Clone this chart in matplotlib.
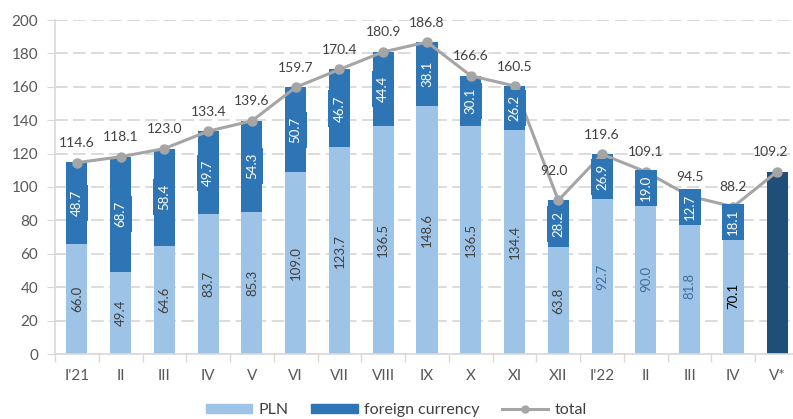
import matplotlib
matplotlib.use("Agg")
import matplotlib.pyplot as plt
from matplotlib.patches import Patch
from matplotlib.lines import Line2D
import numpy as np

months = ["I'21", "II", "III", "IV", "V", "VI", "VII", "VIII", "IX", "X", "XI", "XII",
          "I'22", "II", "III", "IV", "V*"]
pln = [66.0, 49.4, 64.6, 83.7, 85.3, 109.0, 123.7, 136.5, 148.6, 136.5, 134.4, 63.8,
       92.7, 90.0, 81.8, 70.1]
foreign = [48.7, 68.7, 58.4, 49.7, 54.3, 50.7, 46.7, 44.4, 38.1, 30.1, 26.2, 28.2,
           26.9, 19.0, 12.7, 18.1]
total = [114.6, 118.1, 123.0, 133.4, 139.6, 159.7, 170.4, 180.9, 186.8, 166.6, 160.5, 92.0,
         119.6, 109.1, 94.5, 88.2, 109.2]

c_pln = "#9DC3E6"
c_for = "#2E75B6"
c_last = "#1F4E79"
c_tot = "#A5A5A5"
c_txt = "#404040"
pln_label_colors = [c_txt] * 12 + ["#3F6E9E", "#3F6E9E", "#3F6E9E", "#000000"]

plt.rcParams['font.family'] = ['Lato', 'DejaVu Sans']

fig = plt.figure(figsize=(7.93, 4.19), dpi=100)
ax = fig.add_axes([55 / 793, 65 / 419, 744 / 793, 334 / 419])

x = np.arange(len(months))
n = len(pln)
w = 0.48
ax.bar(x[:n], pln, w, color=c_pln, zorder=2)
ax.bar(x[:n], foreign, w, bottom=pln, color=c_for, zorder=2)
ax.bar(x[n:], total[n:], w, color=c_last, zorder=2)
ax.plot(x, total, color=c_tot, lw=2.2, marker='o', ms=6.5, zorder=3)

for i in range(n):
    ax.text(x[i], pln[i] / 2, f"{pln[i]:.1f}", rotation=90, ha='center', va='center',
            fontsize=9.5, color=pln_label_colors[i], zorder=4)
    ax.text(x[i], pln[i] + foreign[i] / 2, f"{foreign[i]:.1f}", rotation=90, ha='center',
            va='center', fontsize=9.5, color='white', zorder=4,
            bbox=dict(boxstyle='square,pad=0.38', fc=c_for, ec='none'))

for i, t in enumerate(total):
    if months[i] == "XII":
        off = (-3, 21)
    elif i == len(total) - 1:
        off = (-5, 14)
    else:
        off = (0, 14)
    ax.annotate(f"{t:.1f}", (x[i], t), xytext=off, textcoords='offset points',
                ha='center', va='center', fontsize=10, color=c_txt, zorder=5)

ax.set_xlim(-0.5, len(months) - 0.5)
ax.set_ylim(0, 200)
ax.set_yticks(range(0, 201, 20))
ax.yaxis.grid(True, color='#D9D9D9', lw=1.3, linestyle=(0, (7, 3)), zorder=0)
ax.set_axisbelow(True)
ax.set_xticks(x)
ax.set_xticklabels(months)
ax.set_xticks(np.arange(-0.5, len(months), 1), minor=True)
ax.tick_params(axis='x', which='major', length=0, pad=11, labelsize=11, labelcolor='#595959')
ax.tick_params(axis='x', which='minor', length=6, color='#D9D9D9', width=1)
ax.tick_params(axis='y', length=6, color='#D9D9D9', labelsize=11, labelcolor='#595959', pad=6)
for s in ['top', 'right']:
    ax.spines[s].set_visible(False)
for s in ['left', 'bottom']:
    ax.spines[s].set_color('#D9D9D9')
    ax.spines[s].set_linewidth(1.2)

handles = [Patch(color=c_pln, label='PLN'),
           Patch(color=c_for, label='foreign currency'),
           Line2D([], [], color=c_tot, lw=2.2, marker='o', ms=5, label='total')]
fig.legend(handles=handles, loc='center', bbox_to_anchor=(0.5, 9 / 419), ncol=3,
           frameon=False, fontsize=11.5, handlelength=2.9, handleheight=0.5,
           handletextpad=0.4, columnspacing=1.4, labelcolor='#404040')

fig.savefig("out.png", dpi=100)
